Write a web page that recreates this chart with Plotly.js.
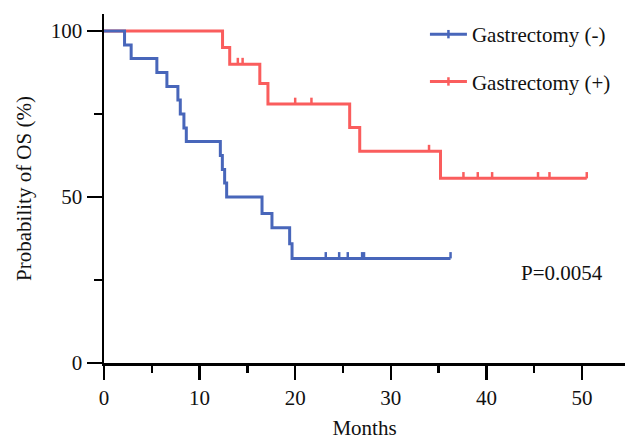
<!DOCTYPE html>
<html>
<head>
<meta charset="utf-8">
<script src="https://cdn.plot.ly/plotly-3.0.1.min.js"></script>
<style>html,body{margin:0;padding:0;background:#fff;}#chart{width:625px;height:440px;}</style>
</head>
<body>
<div id="chart"></div>
<script>
// Gastrectomy (-) : step times (months) and survival (%) after each step
const blueTimes = [0, 2.15, 2.84, 5.53, 6.58, 7.73, 7.98, 8.36, 8.61, 12.17, 12.38, 12.62, 12.83, 16.53, 17.57, 19.42, 19.67, 36.25];
const blueSurv  = [100, 95.8, 91.7, 87.5, 83.3, 79.2, 75.0, 70.8, 66.7, 62.5, 58.3, 54.2, 50.0, 45.0, 40.7, 35.9, 31.5, 31.5];
const blueCensor = [23.2, 24.6, 25.5, 27.0, 27.2, 36.25];

// Gastrectomy (+)
const redTimes = [0, 12.4, 13.15, 16.3, 17.15, 25.7, 26.75, 35.2, 50.5];
const redSurv  = [100, 95.0, 90.0, 84.2, 78.0, 70.9, 63.8, 55.6, 55.6];
const redCensor = [14.0, 14.5, 20.0, 21.7, 34.0, 37.6, 39.1, 40.6, 45.4, 46.6, 50.5];

const seriesNames = ['Gastrectomy (-)', 'Gastrectomy (+)'];
const pText = 'P=0.0054';
const xTickVals = [0, 10, 20, 30, 40, 50];
const yTickVals = [0, 50, 100];

const BLUE = '#4866BA';
const RED = '#FA5D5D';
const FONT = 'Liberation Serif, Times New Roman, serif';
const FS = 21;
const LW = 3;
const TICK_H = 1.9; // censor tick height in % units

function survAt(times, surv, t) {
  let s = surv[0];
  for (let i = 0; i < times.length; i++) { if (times[i] <= t) s = surv[i]; }
  return s;
}
function censorTrace(times, surv, cens, color) {
  const xs = [], ys = [];
  cens.forEach(t => { const s = survAt(times, surv, t); xs.push(t, t, null); ys.push(s, s + TICK_H, null); });
  return {x: xs, y: ys, mode: 'lines', line: {color: color, width: 2.5}, showlegend: false, hoverinfo: 'skip', cliponaxis: false};
}

const traces = [
  {x: redTimes, y: redSurv, mode: 'lines', line: {color: RED, width: LW, shape: 'hv'}, showlegend: false},
  censorTrace(redTimes, redSurv, redCensor, RED),
  {x: blueTimes, y: blueSurv, mode: 'lines', line: {color: BLUE, width: LW, shape: 'hv'}, showlegend: false},
  censorTrace(blueTimes, blueSurv, blueCensor, BLUE),
  {x: [null], y: [null], name: seriesNames[0], legendgroup: 'a', mode: 'lines+markers', line: {color: BLUE, width: LW},
   marker: {symbol: 'line-ns', size: 6, line: {color: BLUE, width: 2.5}}},
  {x: [null], y: [null], name: seriesNames[1], legendgroup: 'b', mode: 'lines+markers', line: {color: RED, width: LW},
   marker: {symbol: 'line-ns', size: 6, line: {color: RED, width: 2.5}}}
];

const axisCommon = {
  showline: true, linecolor: '#000', linewidth: 2.5, mirror: false,
  ticks: 'outside', tickcolor: '#000', tickwidth: 2.5,
  showgrid: false, zeroline: false,
  tickfont: {family: FONT, size: FS, color: '#111'}
};

const layout = {
  width: 625, height: 440,
  margin: {l: 104, r: 0, t: 14, b: 77},
  paper_bgcolor: '#fff', plot_bgcolor: '#fff',
  showlegend: true,
  xaxis: Object.assign({}, axisCommon, {
    range: [0, 54.5], tickvals: xTickVals, ticklen: 14,
    minor: {dtick: 5, tick0: 0, ticklen: 7, tickwidth: 2.5, tickcolor: '#000', ticks: 'outside'},
    title: {text: 'Months', font: {family: FONT, size: FS, color: '#111'}, standoff: 18}
  }),
  yaxis: Object.assign({}, axisCommon, {
    range: [0, 105.1], tickvals: yTickVals, ticklen: 15,
    minor: {dtick: 25, tick0: 0, ticklen: 8, tickwidth: 2.5, tickcolor: '#000', ticks: 'outside'},
    title: {text: 'Probability of OS (%)', font: {family: FONT, size: FS, color: '#111'}, standoff: 14}
  }),
  legend: {x: 0.616, y: 1.0, xanchor: 'left', yanchor: 'top', itemwidth: 37, tracegroupgap: 17,
    traceorder: 'grouped', bgcolor: 'rgba(0,0,0,0)', font: {family: FONT, size: FS, color: '#111'}},
  annotations: [{x: 47.9, y: 27.1, xref: 'x', yref: 'y', text: pText, showarrow: false,
    font: {family: FONT, size: FS, color: '#111'}, xanchor: 'center', yanchor: 'middle'}]
};

Plotly.newPlot('chart', traces, layout, {displayModeBar: false, staticPlot: true});
</script>
</body>
</html>
